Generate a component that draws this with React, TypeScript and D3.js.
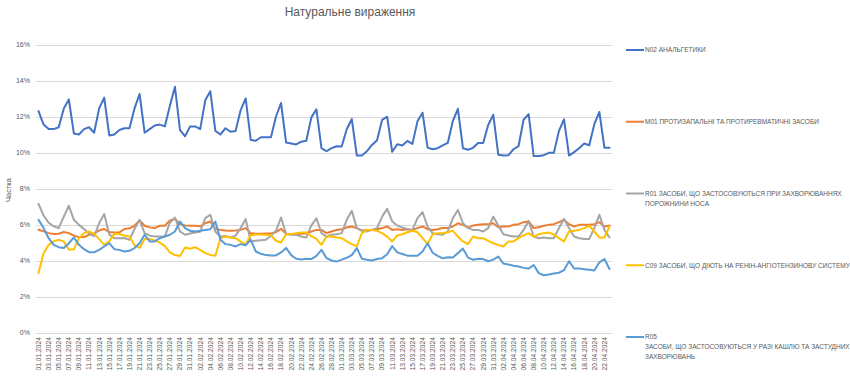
import React from "react";
import * as d3 from "d3";

const N02 = [
  12.3, 11.55, 11.3, 11.3, 11.4, 12.45, 12.95, 11.05, 11.0, 11.3,
  11.4, 11.1, 12.45, 13.05, 10.95, 11.0, 11.25, 11.35, 11.35, 12.45,
  13.25, 11.1, 11.3, 11.5, 11.55, 11.45, 12.6, 13.65, 11.25, 10.9,
  11.45, 11.45, 11.3, 12.9, 13.4, 11.2, 11.0, 11.35, 11.15, 11.2,
  12.35, 13.0, 10.7, 10.65, 10.85, 10.85, 10.85, 12.0, 12.75, 10.55,
  10.5, 10.45, 10.6, 10.65, 11.95, 12.4, 10.24, 10.07, 10.24, 10.35,
  10.33, 11.29, 11.86, 9.83, 9.83, 10.07, 10.42, 10.68, 11.81, 11.99,
  10.04, 10.46, 10.39, 10.64, 10.48, 11.73, 12.21, 10.27, 10.18, 10.24,
  10.4, 10.53, 11.75, 12.43, 10.24, 10.15, 10.26, 10.53, 10.53, 11.53,
  12.1, 9.87, 9.83, 9.85, 10.18, 10.35, 11.82, 12.13, 9.8, 9.81,
  9.85, 9.98, 9.98, 11.2, 11.84, 9.83, 10.02, 10.24, 10.5, 10.4,
  11.57, 12.25, 10.27, 10.26,
];

const M01 = [
  5.71, 5.62, 5.52, 5.47, 5.49, 5.58, 5.52, 5.38, 5.3, 5.3,
  5.43, 5.49, 5.67, 5.75, 5.58, 5.56, 5.56, 5.75, 5.79, 5.93,
  6.23, 5.93, 5.84, 5.8, 5.93, 5.93, 6.23, 6.31, 6.02, 5.95,
  5.93, 5.93, 5.9, 6.07, 6.17, 5.76, 5.7, 5.67, 5.65, 5.67,
  5.7, 5.8, 5.52, 5.48, 5.48, 5.5, 5.5, 5.58, 5.76, 5.48,
  5.46, 5.46, 5.48, 5.5, 5.61, 5.7, 5.7, 5.52, 5.61, 5.7,
  5.74, 5.83, 5.89, 5.8, 5.65, 5.7, 5.7, 5.74, 5.8, 5.89,
  5.7, 5.74, 5.7, 5.74, 5.7, 5.8, 5.89, 5.74, 5.7, 5.74,
  5.8, 5.8, 5.89, 6.07, 5.98, 5.83, 5.94, 5.98, 6.02, 6.02,
  6.07, 5.85, 5.89, 5.89, 5.98, 6.02, 6.13, 6.17, 5.8, 5.85,
  5.93, 5.98, 6.02, 6.13, 6.26, 6.02, 5.89, 5.98, 5.98, 5.98,
  6.02, 6.13, 5.89, 5.94,
];

const R01 = [
  7.15, 6.5, 6.1, 5.9, 5.8, 6.44, 7.04, 6.26, 5.98, 5.75,
  5.5, 5.35, 6.07, 6.59, 5.45, 5.24, 5.24, 5.25, 5.15, 5.75,
  6.26, 5.52, 5.38, 5.34, 5.34, 5.34, 6.1, 6.39, 5.62, 5.43,
  5.5, 5.55, 5.6, 6.35, 6.54, 5.6, 5.33, 5.36, 5.28, 5.38,
  5.8, 6.3, 5.06, 5.1, 5.12, 5.15, 5.38, 5.65, 6.39, 5.48,
  5.43, 5.43, 5.33, 5.28, 5.95, 6.35, 5.52, 5.33, 5.43, 5.46,
  5.52, 6.26, 6.76, 5.8, 5.67, 5.61, 5.7, 5.8, 6.44, 6.87,
  6.17, 5.94, 5.83, 5.74, 5.7, 6.35, 6.69, 5.89, 5.52, 5.46,
  5.43, 5.61, 6.35, 6.81, 6.07, 5.8, 5.7, 5.7, 5.61, 5.8,
  6.44, 5.94, 5.46, 5.39, 5.33, 5.33, 5.7, 6.2, 5.33, 5.24,
  5.28, 5.24, 5.24, 5.8, 6.31, 5.8, 5.33, 5.24, 5.2, 5.2,
  5.8, 6.54, 5.7, 5.28,
];

const C09 = [
  3.3, 4.4, 4.87, 5.06, 5.15, 5.06, 4.6, 4.63, 5.24, 5.52,
  5.61, 5.48, 5.19, 4.87, 5.06, 5.48, 5.46, 5.39, 5.33, 4.85,
  4.7, 5.2, 5.2, 5.12, 5.0, 4.8, 4.45, 4.3, 4.25, 4.72,
  4.65, 4.74, 4.59, 4.41, 4.31, 4.26, 5.24, 5.33, 5.28, 5.24,
  5.05, 4.9, 5.4, 5.45, 5.45, 5.43, 5.4, 5.1, 5.0, 5.45,
  5.47, 5.52, 5.56, 5.56, 5.35, 5.2, 4.87, 5.33, 5.33, 5.28,
  5.24, 5.06, 4.91, 4.78, 5.52, 5.7, 5.7, 5.65, 5.52, 5.33,
  5.06, 5.39, 5.46, 5.57, 5.65, 5.57, 5.24, 4.91, 5.46, 5.52,
  5.52, 5.57, 5.65, 5.33, 5.06, 4.91, 5.33, 5.24, 5.24, 5.09,
  4.96, 4.87, 4.78, 5.06, 5.06, 5.24, 5.39, 5.52, 5.33, 5.46,
  5.52, 5.56, 5.43, 5.24, 5.06, 5.61, 5.65, 5.7, 5.8, 5.94,
  5.61, 5.28, 5.28, 5.89,
];

const R05 = [
  6.26, 5.8, 5.24, 4.87, 4.74, 4.69, 4.96, 5.28, 4.87, 4.63,
  4.46, 4.46, 4.59, 4.78, 4.96, 4.63, 4.59, 4.5, 4.54, 4.69,
  4.96, 5.43, 5.06, 5.06, 5.24, 5.33, 5.43, 5.61, 6.17, 5.8,
  5.65, 5.61, 5.65, 5.7, 5.74, 6.17, 5.15, 4.91, 4.87, 4.78,
  4.91, 4.85, 5.15, 4.5, 4.37, 4.3, 4.28, 4.28, 4.45, 4.7,
  4.3, 4.1, 4.05, 4.1, 4.08, 4.26, 4.59, 4.13, 4.0, 3.94,
  4.05, 4.15, 4.3, 4.69, 4.1, 4.04, 4.0, 4.08, 4.13, 4.35,
  4.8, 4.45, 4.36, 4.27, 4.26, 4.26, 4.5, 4.96, 4.43, 4.26,
  4.12, 4.18, 4.17, 4.41, 4.66, 4.16, 4.04, 4.1, 4.08, 3.96,
  4.05, 4.22, 3.83, 3.78, 3.71, 3.67, 3.59, 3.55, 3.75, 3.3,
  3.18, 3.22, 3.28, 3.32, 3.46, 3.96, 3.56, 3.55, 3.52, 3.49,
  3.44, 3.9, 4.08, 3.53,
];

const startDate = new Date(2024, 0, 1);
const dates = d3.timeDay.range(startDate, d3.timeDay.offset(startDate, N02.length));
const fmt = d3.timeFormat("%d.%m.%Y");
const categories = dates.map((d) => fmt(d));

const yTicks = [0, 2, 4, 6, 8, 10, 12, 14, 16];

const seriesNames = ["N02", "M01", "R01", "C09", "R05"];
const seriesValues = [N02, M01, R01, C09, R05];
const seriesColors = ["#4472C4", "#ED7D31", "#A5A5A5", "#FFC000", "#5B9BD5"];
const legendLines = [
  ["N02 АНАЛЬГЕТИКИ"],
  ["M01 ПРОТИЗАПАЛЬНІ ТА ПРОТИРЕВМАТИЧНІ ЗАСОБИ"],
  ["R01 ЗАСОБИ, ЩО ЗАСТОСОВУЮТЬСЯ ПРИ ЗАХВОРЮВАННЯХ", "ПОРОЖНИНИ НОСА"],
  ["C09 ЗАСОБИ, ЩО ДІЮТЬ НА РЕНІН-АНГІОТЕНЗИНОВУ СИСТЕМУ"],
  ["R05", "ЗАСОБИ, ЩО ЗАСТОСОВУЮТЬСЯ У РАЗІ КАШЛЮ ТА ЗАСТУДНИХ", "ЗАХВОРЮВАНЬ"],
];

const W = 850;
const H = 384;
const plot = { left: 36, right: 612, top: 44.5, bottom: 332.5 };
const FONT = "'Liberation Sans', Arial, sans-serif";
const TXT = "#595959";

export default function App() {
  const x = d3
    .scalePoint<string>()
    .domain(categories)
    .range([plot.left, plot.right])
    .padding(0.5);
  const y = d3.scaleLinear().domain([0, 16]).range([plot.bottom, plot.top]);

  const line = d3
    .line<number>()
    .x((_, i) => x(categories[i]) as number)
    .y((v) => y(v));

  const legendY = d3.scaleLinear().domain([0, 4]).range([50, 337]);

  return (
    <svg
      width={W}
      height={H}
      style={{ position: "absolute", left: 0, top: 0, background: "#fff" }}
    >
      <rect x={0} y={0} width={W} height={H} fill="#fff" />
      <text
        x={350}
        y={16}
        textAnchor="middle"
        fontFamily={FONT}
        fontSize={12}
        fill={TXT}
      >
        Натуральне вираження
      </text>

      {yTicks.map((t) => (
        <g key={t}>
          <line
            x1={plot.left}
            x2={plot.right}
            y1={Math.round(y(t)) + 0.5}
            y2={Math.round(y(t)) + 0.5}
            stroke="#d9d9d9"
            strokeWidth={1}
          />
          <text
            x={30}
            y={y(t)}
            dy="0.35em"
            textAnchor="end"
            fontFamily={FONT}
            fontSize={7}
            fill={TXT}
          >
            {t}%
          </text>
        </g>
      ))}

      <text
        transform={`translate(11, 190) rotate(-90)`}
        textAnchor="middle"
        fontFamily={FONT}
        fontSize={7.5}
        fill={TXT}
      >
        Частка
      </text>

      {categories.map((c, i) =>
        i % 2 === 0 ? (
          <text
            key={c}
            transform={`translate(${x(c)}, 337) rotate(-90)`}
            dy="0.35em"
            textAnchor="end"
            fontFamily={FONT}
            fontSize={6.7}
            fill={TXT}
          >
            {c}
          </text>
        ) : null
      )}

      {seriesValues.map((vals, k) => (
        <path
          key={seriesNames[k]}
          d={line(vals) || ""}
          fill="none"
          stroke={seriesColors[k]}
          strokeWidth={2}
          strokeLinejoin="round"
          strokeLinecap="round"
        />
      ))}

      {legendLines.map((lines, k) => {
        const ly = legendY(k);
        return (
          <g key={seriesNames[k]}>
            <line
              x1={626}
              x2={644}
              y1={ly}
              y2={ly}
              stroke={seriesColors[k]}
              strokeWidth={2}
            />
            {lines.map((s, j) => (
              <text
                key={j}
                x={645}
                y={ly + j * 10}
                dy="0.35em"
                fontFamily={FONT}
                fontSize={6.5}
                fill={TXT}
              >
                {s}
              </text>
            ))}
          </g>
        );
      })}
    </svg>
  );
}
